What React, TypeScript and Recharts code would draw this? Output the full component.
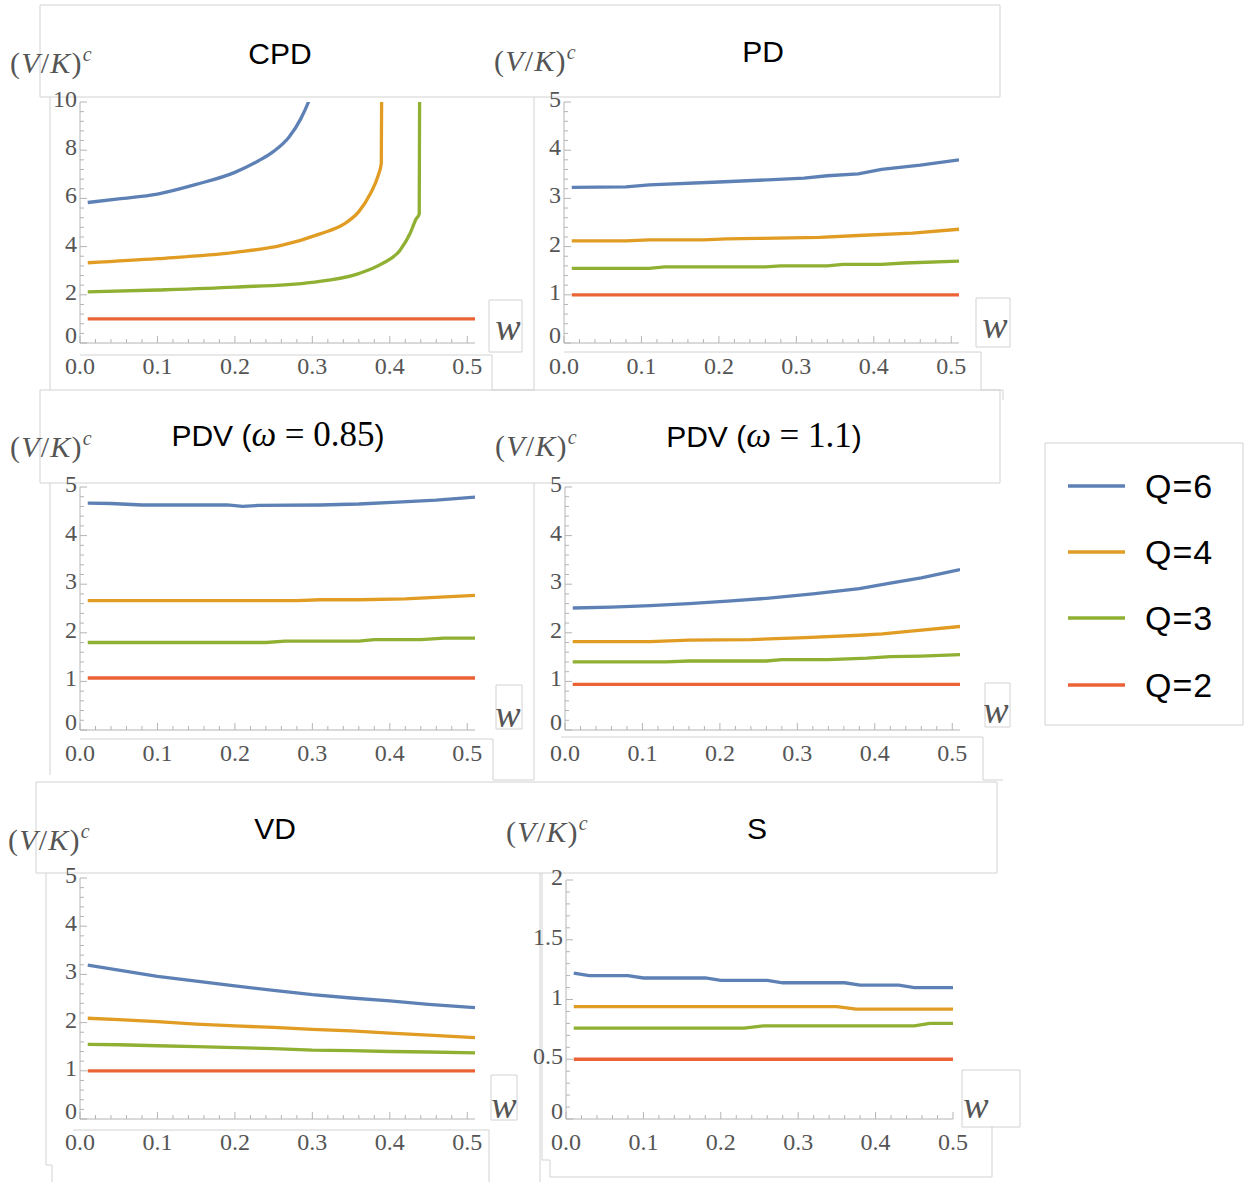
import { Line, LineChart, XAxis, YAxis } from "recharts";

const SERIF = "'Liberation Serif', 'Times New Roman', serif";
const SANS = "'Liberation Sans', Arial, sans-serif";
const AXIS = "#b4b4b4";
const LABEL = "#555555";
const BOX = "#d2d2d2";

const COLORS = ["#5E81B5", "#E19C24", "#8FB032", "#EB6235"];
const legendLabels = ["Q=6", "Q=4", "Q=3", "Q=2"];

const xMajor = [0, 0.1, 0.2, 0.3, 0.4, 0.5];
const xTickLabels = ["0.0", "0.1", "0.2", "0.3", "0.4", "0.5"];

// CPD
const cpdW6 = [0.01, 0.05, 0.1, 0.15, 0.2, 0.23, 0.25, 0.27, 0.285, 0.295, 0.305];
const cpdQ6 = [5.83, 5.98, 6.18, 6.58, 7.08, 7.55, 7.95, 8.55, 9.3, 10.0, 10.9];
const cpdW4 = [0.01, 0.1, 0.2, 0.26, 0.31, 0.34, 0.36, 0.375, 0.385, 0.389, 0.3895];
const cpdQ4 = [3.33, 3.5, 3.76, 4.05, 4.53, 4.92, 5.45, 6.2, 6.95, 7.45, 10.5];
const cpdW3 = [0.01, 0.1, 0.2, 0.3, 0.36, 0.39, 0.413, 0.426, 0.434, 0.438, 0.4385];
const cpdQ3 = [2.12, 2.2, 2.32, 2.52, 2.88, 3.29, 3.84, 4.53, 5.15, 5.35, 10.5];
const cpdW2 = [0.01, 0.51];
const cpdQ2 = [1.0, 1.0];

// PD
const pdW6 = [0.01, 0.08, 0.11, 0.2, 0.27, 0.31, 0.34, 0.38, 0.41, 0.46, 0.51];
const pdQ6 = [3.23, 3.24, 3.28, 3.34, 3.39, 3.42, 3.47, 3.51, 3.6, 3.69, 3.8];
const pdW4 = [0.01, 0.08, 0.11, 0.18, 0.21, 0.25, 0.33, 0.38, 0.45, 0.51];
const pdQ4 = [2.12, 2.12, 2.14, 2.14, 2.16, 2.17, 2.19, 2.23, 2.28, 2.36];
const pdW3 = [0.01, 0.11, 0.13, 0.26, 0.28, 0.34, 0.36, 0.41, 0.44, 0.51];
const pdQ3 = [1.55, 1.55, 1.58, 1.58, 1.6, 1.6, 1.63, 1.63, 1.66, 1.7];
const pdW2 = [0.01, 0.51];
const pdQ2 = [1.0, 1.0];

// PDV (omega = 0.85)
const pdv1W6 = [0.01, 0.04, 0.08, 0.19, 0.21, 0.23, 0.31, 0.36, 0.41, 0.46, 0.51];
const pdv1Q6 = [4.67, 4.66, 4.63, 4.63, 4.6, 4.62, 4.63, 4.65, 4.69, 4.73, 4.79];
const pdv1W4 = [0.01, 0.28, 0.31, 0.36, 0.42, 0.51];
const pdv1Q4 = [2.66, 2.66, 2.68, 2.68, 2.7, 2.77];
const pdv1W3 = [0.01, 0.24, 0.265, 0.36, 0.38, 0.44, 0.47, 0.51];
const pdv1Q3 = [1.8, 1.8, 1.83, 1.83, 1.86, 1.86, 1.89, 1.89];
const pdv1W2 = [0.01, 0.51];
const pdv1Q2 = [1.07, 1.07];

// PDV (omega = 1.1)
const pdv2W6 = [0.01, 0.06, 0.11, 0.16, 0.21, 0.26, 0.32, 0.38, 0.42, 0.46, 0.51];
const pdv2Q6 = [2.51, 2.53, 2.56, 2.6, 2.65, 2.71, 2.8, 2.91, 3.02, 3.13, 3.3];
const pdv2W4 = [0.01, 0.11, 0.16, 0.24, 0.31, 0.38, 0.41, 0.45, 0.51];
const pdv2Q4 = [1.82, 1.82, 1.85, 1.86, 1.9, 1.95, 1.98, 2.04, 2.13];
const pdv2W3 = [0.01, 0.13, 0.16, 0.26, 0.28, 0.34, 0.39, 0.42, 0.46, 0.51];
const pdv2Q3 = [1.4, 1.4, 1.42, 1.42, 1.45, 1.45, 1.48, 1.51, 1.52, 1.55];
const pdv2W2 = [0.01, 0.51];
const pdv2Q2 = [0.94, 0.94];

// VD
const vdW = [0.01, 0.05, 0.1, 0.15, 0.2, 0.25, 0.3, 0.35, 0.4, 0.45, 0.51];
const vdQ6 = [3.19, 3.09, 2.96, 2.86, 2.76, 2.67, 2.58, 2.51, 2.45, 2.38, 2.31];
const vdQ4 = [2.09, 2.06, 2.02, 1.97, 1.93, 1.9, 1.86, 1.83, 1.78, 1.74, 1.69];
const vdQ3 = [1.55, 1.54, 1.52, 1.5, 1.48, 1.46, 1.43, 1.42, 1.4, 1.39, 1.37];
const vdQ2 = [1.0, 1.0, 1.0, 1.0, 1.0, 1.0, 1.0, 1.0, 1.0, 1.0, 1.0];

// S
const sW6 = [0.01, 0.03, 0.08, 0.1, 0.18, 0.2, 0.26, 0.28, 0.36, 0.38, 0.43, 0.45, 0.5];
const sQ6 = [1.22, 1.2, 1.2, 1.18, 1.18, 1.16, 1.16, 1.14, 1.14, 1.12, 1.12, 1.1, 1.1];
const sW4 = [0.01, 0.35, 0.375, 0.5];
const sQ4 = [0.94, 0.94, 0.92, 0.92];
const sW3 = [0.01, 0.23, 0.255, 0.45, 0.47, 0.5];
const sQ3 = [0.76, 0.76, 0.78, 0.78, 0.8, 0.8];
const sW2 = [0.01, 0.5];
const sQ2 = [0.5, 0.5];

const yMajor10 = [0, 2, 4, 6, 8, 10];
const yLabels10 = ["0", "2", "4", "6", "8", "10"];
const yMajor5 = [0, 1, 2, 3, 4, 5];
const yLabels5 = ["0", "1", "2", "3", "4", "5"];
const yMajor2 = [0, 0.5, 1, 1.5, 2];
const yLabels2 = ["0", "0.5", "1", "1.5", "2"];

const steps = (max: number, step: number) =>
  Array.from({ length: Math.round(max / step) + 1 }, (_, i) => +(i * step).toFixed(4));

const xTicks = steps(0.5, 0.02);

const rows = (w: number[], v: number[]) => w.map((x, i) => ({ w: x, v: v[i] }));

const near = (list: number[], v: number) => list.findIndex((m) => Math.abs(m - v) < 1e-6);

const renderXTick = (p: any) => {
  const i = near(xMajor, p.payload.value);
  return (
    <g>
      <line x1={p.x} x2={p.x} y1={p.y} y2={p.y - (i >= 0 ? 7 : 4)} stroke={AXIS} />
      {i >= 0 && (
        <text x={p.x} y={p.y + 31} textAnchor="middle" fontFamily={SERIF} fontSize={24} fill={LABEL}>
          {xTickLabels[i]}
        </text>
      )}
    </g>
  );
};

const makeYTick = (major: number[], labels: string[]) => (p: any) => {
  const i = near(major, p.payload.value);
  return (
    <g>
      <line x1={p.x} x2={p.x + (i >= 0 ? 7 : 4)} y1={p.y} y2={p.y} stroke={AXIS} />
      {i >= 0 && (
        <text x={p.x - 3} y={p.y + (i === 0 ? 0 : 5)} textAnchor="end" fontFamily={SERIF} fontSize={24} fill={LABEL}>
          {labels[i]}
        </text>
      )}
    </g>
  );
};

interface PanelProps {
  left: number;
  top: number;
  width: number;
  height: number;
  xMax: number;
  yMax: number;
  yStep: number;
  major: number[];
  labels: string[];
  curve?: "linear" | "monotone";
  series: { w: number[]; v: number[] }[];
}

function Panel({ left, top, width, height, xMax, yMax, yStep, major, labels, curve = "linear", series }: PanelProps) {
  return (
    <div style={{ position: "absolute", left: left - 60, top: top - 15 }}>
      <LineChart
        width={60 + width + 15}
        height={15 + height + 40}
        margin={{ top: 15, right: 15, bottom: 0, left: 0 }}
      >
        <XAxis
          type="number"
          dataKey="w"
          domain={[0, xMax]}
          ticks={xTicks}
          interval={0}
          height={40}
          tickSize={0}
          tickMargin={0}
          tickLine={false}
          axisLine={{ stroke: AXIS }}
          tick={renderXTick}
          allowDataOverflow
        />
        <YAxis
          type="number"
          domain={[0, yMax]}
          ticks={steps(yMax, yStep)}
          interval={0}
          width={60}
          tickSize={0}
          tickMargin={0}
          tickLine={false}
          axisLine={{ stroke: AXIS }}
          tick={makeYTick(major, labels)}
          allowDataOverflow
        />
        {series.map((s, i) => (
          <Line
            key={i}
            data={rows(s.w, s.v)}
            dataKey="v"
            type={curve}
            stroke={COLORS[i]}
            strokeWidth={3.3}
            dot={false}
            activeDot={false}
            isAnimationActive={false}
          />
        ))}
      </LineChart>
    </div>
  );
}

function YTitle({ x, y }: { x: number; y: number }) {
  return (
    <text x={x} y={y} fontFamily={SERIF} fontSize={30} fill={LABEL} letterSpacing={1.2}>
      <tspan>(</tspan>
      <tspan fontStyle="italic">V</tspan>
      <tspan>/</tspan>
      <tspan fontStyle="italic">K</tspan>
      <tspan>)</tspan>
      <tspan fontStyle="italic" fontSize={20} dy={-12}>
        c
      </tspan>
    </text>
  );
}

function WLabel({ x, y }: { x: number; y: number }) {
  return (
    <text x={x} y={y} textAnchor="middle" fontFamily={SERIF} fontStyle="italic" fontSize={38} fill={LABEL}>
      w
    </text>
  );
}

function Title({ x, y, text }: { x: number; y: number; text: string }) {
  return (
    <text x={x} y={y} textAnchor="middle" fontFamily={SANS} fontSize={30} fill="#000">
      {text}
    </text>
  );
}

function OmegaTitle({ x, y, value }: { x: number; y: number; value: string }) {
  return (
    <text x={x} y={y} textAnchor="middle" fill="#000">
      <tspan fontFamily={SANS} fontSize={30}>{"PDV ("}</tspan>
      <tspan fontFamily={SERIF} fontStyle="italic" fontSize={35}>{"ω"}</tspan>
      <tspan fontFamily={SERIF} fontSize={35}>{"\u2005=\u2005" + value}</tspan>
      <tspan fontFamily={SANS} fontSize={30}>{")"}</tspan>
    </text>
  );
}

const boxes = [
  "M40,5 H1000 V97 H40 Z",
  "M50,97 V390",
  "M534,97 V390",
  "M80,355 H492 V390 H534",
  "M489,300 H522 V352 H489 Z",
  "M564,352 H981 V390 H1003 V400",
  "M976,298 H1010 V347 H976 Z",
  "M40,390 H1000 V483 H40 Z",
  "M50,483 V775",
  "M534,483 V780",
  "M80,739 H493 V780 H534",
  "M496,685 H522 V729 H496 Z",
  "M561,737 H983 V780 H1003",
  "M985,683 H1010 V727 H985 Z",
  "M36,782 H997 V873 H36 Z",
  "M46,873 V1165 H52 V1182",
  "M540,873 V1182",
  "M73,1130 H489 V1182",
  "M491,1075 H517 V1120 H491 Z",
  "M542,873 V1160 H550 V1177 H992 V1126",
  "M962,1070 H1020 V1127 H962 Z",
  "M1045,443 H1243 V725 H1045 Z",
];

const legendY = [486, 552, 618, 685];

export default function App() {
  return (
    <div
      style={{
        position: "absolute",
        left: 0,
        top: 0,
        width: 1248,
        height: 1182,
        background: "#fff",
        overflow: "hidden",
      }}
    >
      <svg width={1248} height={1182} style={{ position: "absolute", left: 0, top: 0 }}>
        {boxes.map((d, i) => (
          <path key={i} d={d} fill="none" stroke={BOX} strokeWidth={1} />
        ))}
        <Title x={280} y={64} text="CPD" />
        <Title x={763} y={62} text="PD" />
        <OmegaTitle x={278} y={446} value="0.85" />
        <OmegaTitle x={764} y={447} value="1.1" />
        <Title x={275} y={839} text="VD" />
        <Title x={757} y={839} text="S" />
        <YTitle x={10} y={73} />
        <YTitle x={494} y={71} />
        <YTitle x={10} y={457} />
        <YTitle x={495} y={456} />
        <YTitle x={8} y={850} />
        <YTitle x={506} y={842} />
        <WLabel x={508} y={340} />
        <WLabel x={995} y={338} />
        <WLabel x={508} y={727} />
        <WLabel x={996} y={723} />
        <WLabel x={504} y={1118} />
        <WLabel x={976} y={1118} />
        {legendLabels.map((l, i) => (
          <g key={l}>
            <line x1={1068} x2={1125} y1={legendY[i]} y2={legendY[i]} stroke={COLORS[i]} strokeWidth={3.3} />
            <text x={1145} y={legendY[i] + 12} fontFamily={SANS} fontSize={34} fill="#000" letterSpacing={1}>
              {l}
            </text>
          </g>
        ))}
      </svg>

      <Panel
        left={80}
        top={102}
        width={395}
        height={241}
        xMax={0.51}
        yMax={10}
        yStep={0.4}
        major={yMajor10}
        labels={yLabels10}
        curve="monotone"
        series={[
          { w: cpdW6, v: cpdQ6 },
          { w: cpdW4, v: cpdQ4 },
          { w: cpdW3, v: cpdQ3 },
          { w: cpdW2, v: cpdQ2 },
        ]}
      />
      <Panel
        left={564}
        top={102}
        width={395}
        height={241}
        xMax={0.51}
        yMax={5}
        yStep={0.2}
        major={yMajor5}
        labels={yLabels5}
        series={[
          { w: pdW6, v: pdQ6 },
          { w: pdW4, v: pdQ4 },
          { w: pdW3, v: pdQ3 },
          { w: pdW2, v: pdQ2 },
        ]}
      />
      <Panel
        left={80}
        top={487}
        width={395}
        height={243}
        xMax={0.51}
        yMax={5}
        yStep={0.2}
        major={yMajor5}
        labels={yLabels5}
        series={[
          { w: pdv1W6, v: pdv1Q6 },
          { w: pdv1W4, v: pdv1Q4 },
          { w: pdv1W3, v: pdv1Q3 },
          { w: pdv1W2, v: pdv1Q2 },
        ]}
      />
      <Panel
        left={565}
        top={487}
        width={395}
        height={243}
        xMax={0.51}
        yMax={5}
        yStep={0.2}
        major={yMajor5}
        labels={yLabels5}
        series={[
          { w: pdv2W6, v: pdv2Q6 },
          { w: pdv2W4, v: pdv2Q4 },
          { w: pdv2W3, v: pdv2Q3 },
          { w: pdv2W2, v: pdv2Q2 },
        ]}
      />
      <Panel
        left={80}
        top={878}
        width={395}
        height={241}
        xMax={0.51}
        yMax={5}
        yStep={0.2}
        major={yMajor5}
        labels={yLabels5}
        series={[
          { w: vdW, v: vdQ6 },
          { w: vdW, v: vdQ4 },
          { w: vdW, v: vdQ3 },
          { w: vdW, v: vdQ2 },
        ]}
      />
      <Panel
        left={566}
        top={880}
        width={387}
        height={239}
        xMax={0.5}
        yMax={2}
        yStep={0.1}
        major={yMajor2}
        labels={yLabels2}
        series={[
          { w: sW6, v: sQ6 },
          { w: sW4, v: sQ4 },
          { w: sW3, v: sQ3 },
          { w: sW2, v: sQ2 },
        ]}
      />
    </div>
  );
}
